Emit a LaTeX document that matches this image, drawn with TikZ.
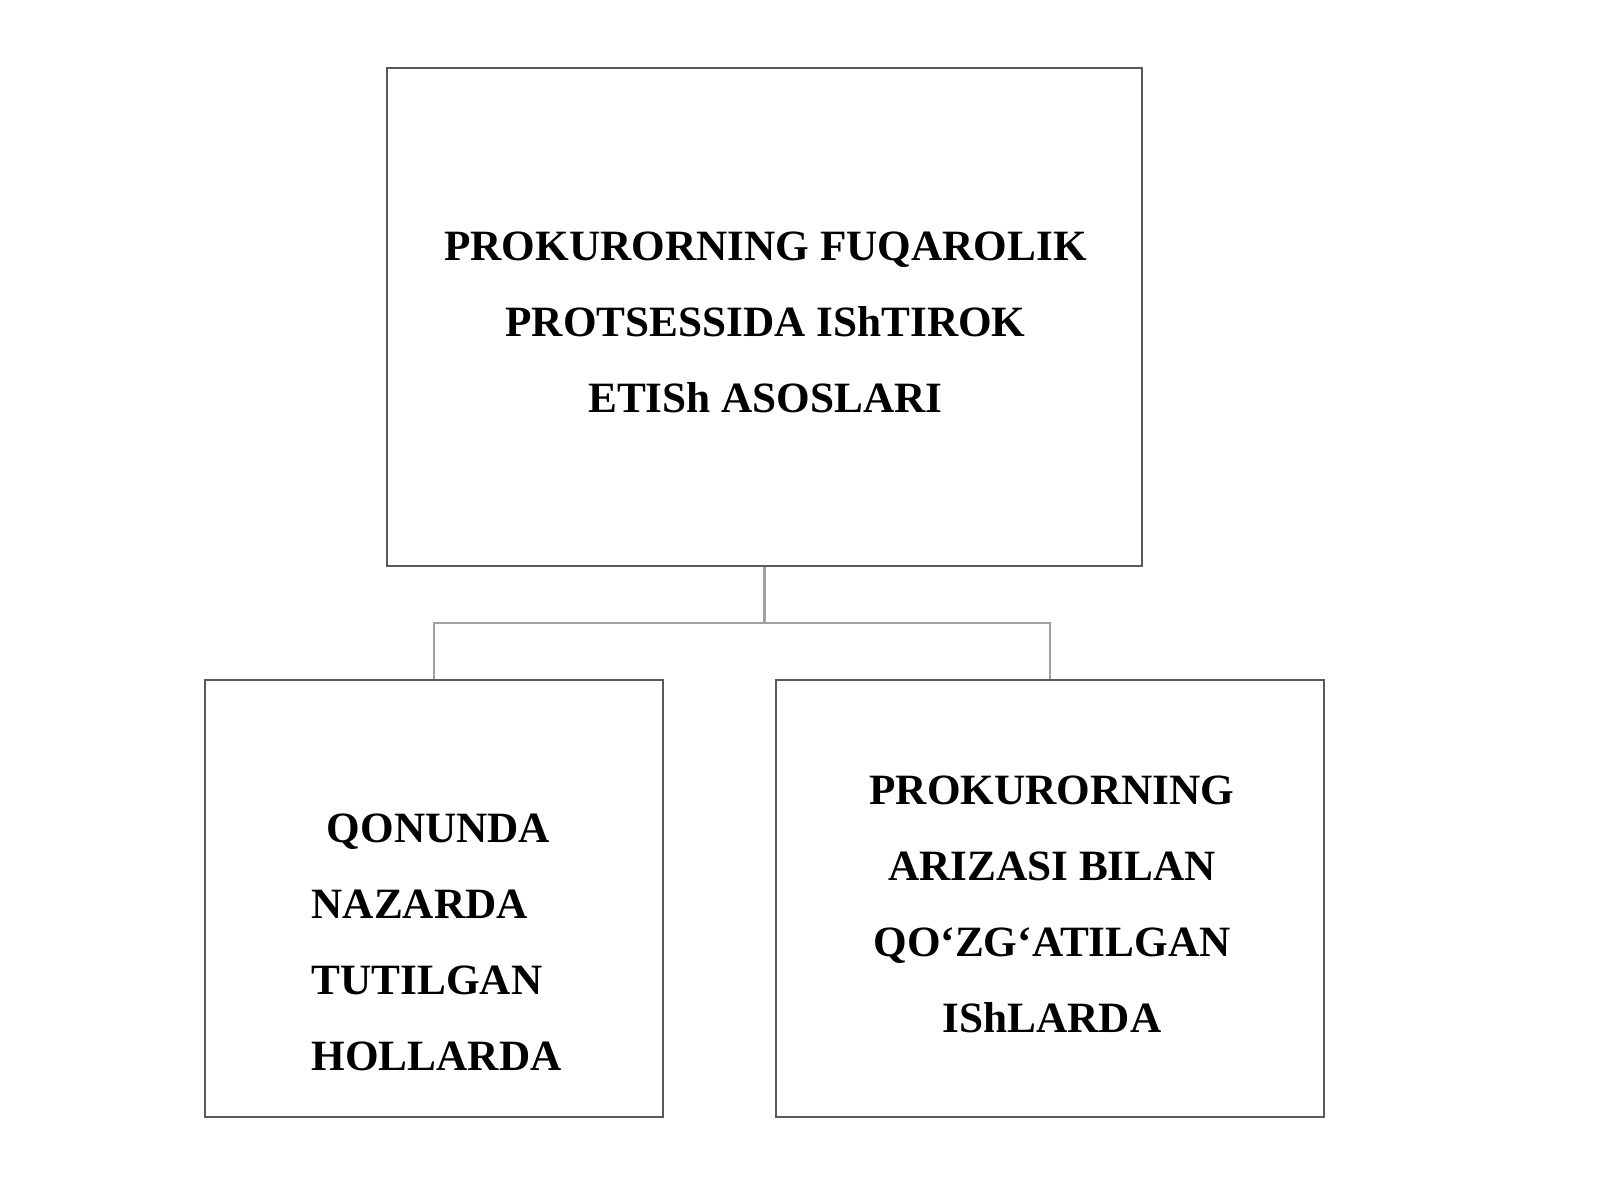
\documentclass[tikz,border=0pt]{standalone}
\usepackage{fontspec}
\setmainfont{Liberation Serif}
\usepackage{tikz}
\usetikzlibrary{calc}
\definecolor{FRAME}{HTML}{5A5A5A}
\definecolor{LINK}{HTML}{A0A0A0}
\definecolor{BLACK}{HTML}{000000}

\begin{document}
\begin{tikzpicture}[scale=1,
    box/.style={draw=FRAME, line width=0.6pt, inner sep=0pt},
    lbl/.style={BLACK, font=\fontsize{12.3}{21.6}\selectfont\bfseries, inner sep=0pt}]
    \useasboundingbox (0,0) rectangle (16,-12);
    \node[box, minimum width=7.55cm, minimum height=4.98cm] (top) at (7.645,-3.17) {};
    \node[box, minimum width=4.58cm, minimum height=4.37cm] (left) at (4.34,-8.985) {};
    \node[box, minimum width=5.48cm, minimum height=4.37cm] (right) at (10.50,-8.985) {};
    \node[lbl, align=center] (toptext) at (7.655,-3.22) {PROKURORNING FUQAROLIK\\PROTSESSIDA IShTIROK\\ETISh ASOSLARI};
    \node[lbl, align=left, anchor=west] (lefttext) at (3.11,-9.42) {\hspace{4.3pt}QONUNDA\\NAZARDA\\TUTILGAN\\HOLLARDA};
    \node[lbl, align=center] (righttext) at (10.52,-9.04) {PROKURORNING\\ARIZASI BILAN\\QO‘ZG‘ATILGAN\\IShLARDA};
    \coordinate (fork) at ($(top.south)+(0,-0.56)$);
    \draw[LINK, line width=0.6pt] (top.south) -- (fork);
    \draw[LINK, line width=0.6pt] (fork) -| (left.north);
    \draw[LINK, line width=0.6pt] (fork) -| (right.north);
\end{tikzpicture}
\end{document}
